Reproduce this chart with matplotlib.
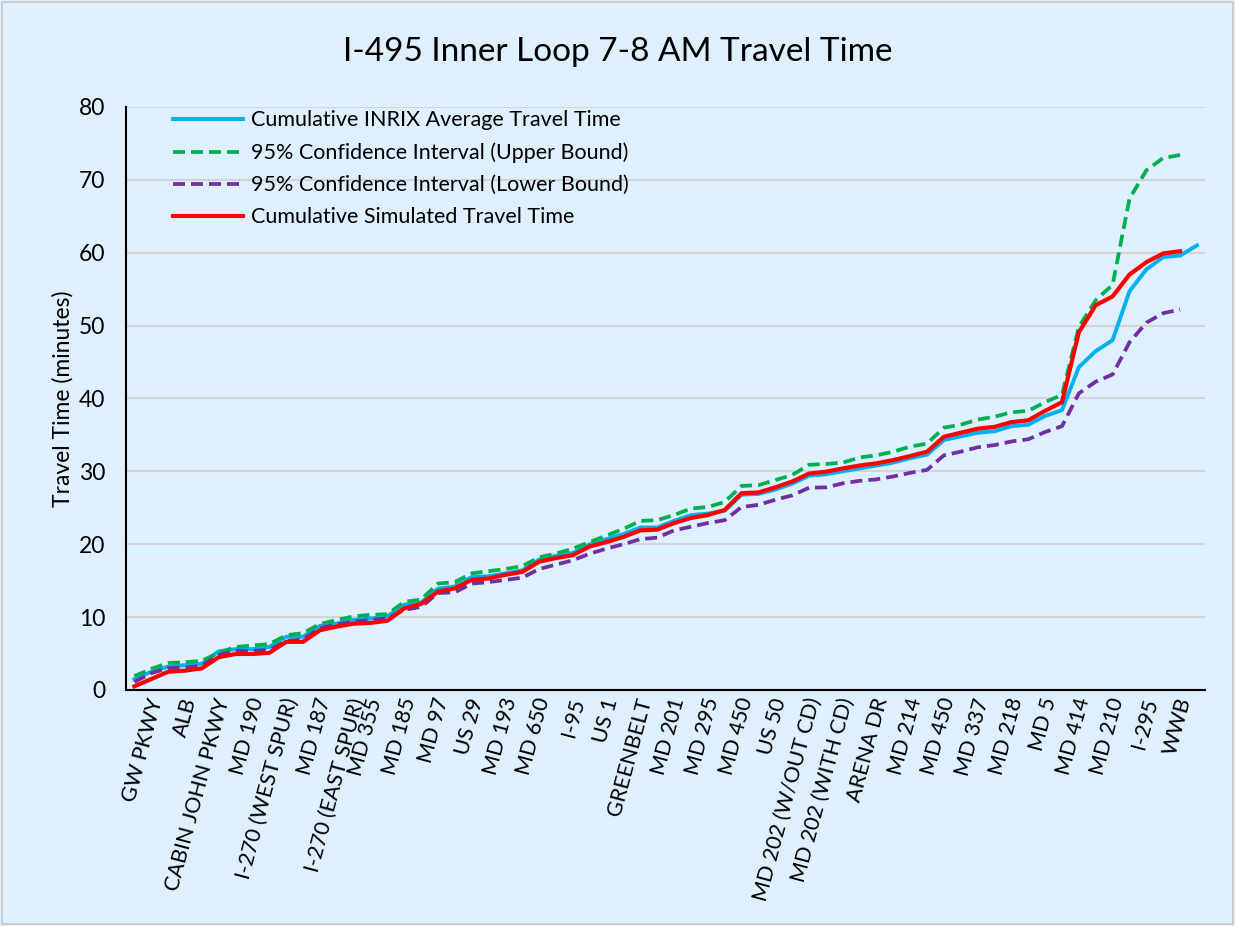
import matplotlib

matplotlib.use('agg')
import matplotlib.pyplot as plt
import matplotlib.transforms as mtransforms
from matplotlib.patches import Rectangle

plt.rcParams['font.family'] = ['Lato', 'DejaVu Sans']

# one entry per segment node, most nodes unnamed
labels = ['', 'GW PKWY', '', 'ALB', '', 'CABIN JOHN PKWY', '', 'MD 190', '',
          'I-270 (WEST SPUR)', '', 'MD 187', '', 'I-270 (EAST SPUR)', 'MD 355', '',
          'MD 185', '', 'MD 97', '', 'US 29', '', 'MD 193', '', 'MD 650', '',
          'I-95', '', 'US 1', '', 'GREENBELT', '', 'MD 201', '', 'MD 295', '',
          'MD 450', '', 'US 50', '', 'MD 202 (W/OUT CD)', '', 'MD 202 (WITH CD)', '',
          'ARENA DR', '', 'MD 214', '', 'MD 450', '', 'MD 337', '', 'MD 218', '',
          'MD 5', '', 'MD 414', '', 'MD 210', '', 'I-295', '', 'WWB', '']

inrix_avg = [1.5, 2.5, 3.2, 3.4, 3.6, 5.3, 5.6, 5.6, 5.9, 7.3, 7.3, 8.8, 9.1, 9.6,
             9.8, 10.1, 11.7, 12.0, 13.9, 14.2, 15.5, 15.6, 16.0, 16.4, 17.9, 18.4,
             18.8, 20.0, 20.7, 21.4, 22.3, 22.3, 23.2, 24.0, 24.2, 24.6, 26.8, 26.9,
             27.5, 28.3, 29.4, 29.6, 30.0, 30.4, 30.8, 31.2, 31.8, 32.3, 34.3, 34.8,
             35.3, 35.5, 36.2, 36.4, 37.6, 38.4, 44.3, 46.5, 48.0, 54.7, 57.7, 59.4,
             59.6, 61.0]
ci_upper = [1.9, 2.9, 3.7, 3.8, 4.0, 5.1, 5.9, 6.1, 6.3, 7.5, 7.8, 9.05, 9.6, 10.1,
            10.3, 10.4, 12.1, 12.4, 14.6, 14.8, 16.0, 16.3, 16.6, 17.0, 18.2, 18.7,
            19.4, 20.3, 21.2, 22.1, 23.2, 23.3, 24.0, 24.9, 25.1, 25.8, 28.0, 28.1,
            28.8, 29.5, 30.9, 31.0, 31.2, 31.9, 32.2, 32.7, 33.4, 33.8, 36.0, 36.4,
            37.1, 37.5, 38.1, 38.3, 39.5, 40.5, 49.8, 53.5, 55.6, 67.4, 71.3, 73.0,
            73.4]
ci_lower = [1.1, 2.3, 3.0, 3.06, 3.34, 4.8, 5.35, 5.35, 5.5, 6.7, 6.95, 8.46, 9.0,
            9.37, 9.6, 9.83, 11.0, 11.4, 13.3, 13.4, 14.6, 14.8, 15.1, 15.4, 16.6,
            17.2, 17.8, 18.7, 19.4, 20.0, 20.7, 20.9, 21.9, 22.4, 22.9, 23.3, 25.1,
            25.4, 26.1, 26.7, 27.75, 27.8, 28.35, 28.7, 28.9, 29.3, 29.8, 30.2, 32.2,
            32.7, 33.3, 33.6, 34.1, 34.4, 35.4, 36.2, 40.7, 42.3, 43.3, 47.7, 50.4,
            51.7, 52.2]
simulated = [0.5, 1.5, 2.5, 2.65, 2.97, 4.5, 4.94, 4.94, 5.1, 6.6, 6.6, 8.2, 8.7,
             9.1, 9.2, 9.5, 11.2, 11.8, 13.5, 13.95, 15.1, 15.3, 15.8, 16.2, 17.6,
             18.1, 18.5, 19.7, 20.3, 21.0, 21.9, 22.0, 22.9, 23.6, 24.0, 24.7, 27.0,
             27.1, 27.8, 28.6, 29.7, 29.95, 30.4, 30.8, 31.1, 31.55, 32.1, 32.7,
             34.75, 35.3, 35.85, 36.1, 36.75, 37.0, 38.3, 39.5, 49.1, 52.8, 54.0,
             57.0, 58.7, 59.9, 60.2]

bg = '#DEEFFD'
fig = plt.figure(figsize=(12.35, 9.26), dpi=100, facecolor=bg)
fig.patches.append(Rectangle((0.002, 0.002), 0.996, 0.996, transform=fig.transFigure,
                             fill=False, edgecolor='#C8C8C8', lw=1.2))
ax = fig.add_axes([0.102, 0.2549, 0.874, 0.6296])
ax.set_facecolor(bg)

ax.plot(range(len(inrix_avg)), inrix_avg, color='#00B0F0', lw=2.8,
        label='Cumulative INRIX Average Travel Time', zorder=3)
ax.plot(range(len(ci_upper)), ci_upper, color='#00B050', lw=2.7, ls=(0, (3.2, 1.6)),
        label='95% Confidence Interval (Upper Bound)', zorder=3)
ax.plot(range(len(ci_lower)), ci_lower, color='#7030A0', lw=2.7, ls=(0, (3.2, 1.6)),
        label='95% Confidence Interval (Lower Bound)', zorder=3)
ax.plot(range(len(simulated)), simulated, color='#FF0000', lw=3,
        label='Cumulative Simulated Travel Time', zorder=4)

ax.set_xlim(-0.5, len(labels) - 0.5)
ax.set_ylim(0, 80)
ax.set_yticks(range(0, 81, 10))
ax.yaxis.grid(True, color='#D4D4D4', lw=1.5)
ax.set_axisbelow(True)
ax.tick_params(axis='y', length=0, labelsize=16.5, pad=15)
ax.tick_params(axis='x', length=0, labelsize=15.5, pad=6)
ax.set_xticks(range(len(labels)))
ax.set_xticklabels(labels, rotation=75, ha='right', va='center',
                   rotation_mode='anchor')
# nudge the slanted names a little to the right
shift = mtransforms.ScaledTranslation(5 / 100, 0, fig.dpi_scale_trans)
for t in ax.get_xticklabels():
    t.set_transform(t.get_transform() + shift)
for s in ('top', 'right'):
    ax.spines[s].set_visible(False)
for s in ('left', 'bottom'):
    ax.spines[s].set_linewidth(1.5)
    ax.spines[s].set_color('black')

ax.set_ylabel('Travel Time (minutes)', fontsize=16.5, labelpad=4)
fig.suptitle('I-495 Inner Loop 7-8 AM Travel Time', fontsize=24, y=0.96)

ax.legend(loc='upper left', bbox_to_anchor=(0.0436, 0.994), frameon=False,
          fontsize=15.5, handlelength=3.25, handletextpad=0.37, labelspacing=0.56,
          borderaxespad=0, borderpad=0)

fig.savefig('out.png', dpi=100, facecolor=bg)
